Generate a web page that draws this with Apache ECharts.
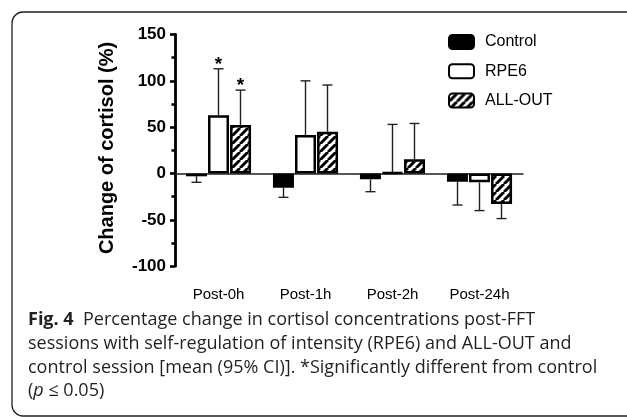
<!DOCTYPE html>
<html>
<head>
<meta charset="utf-8">
<script src="https://cdn.jsdelivr.net/npm/echarts@6/dist/echarts.min.js"></script>
<style>
  html, body { margin: 0; padding: 0; background: #fff; }
  #main { width: 627px; height: 417px; }
</style>
</head>
<body>
<div id="main"></div>
<script>
// data (% change, mean and 95% CI end)
const categories = ['Post-0h', 'Post-1h', 'Post-2h', 'Post-24h'];
const controlMean = [-3, -15.3, -6.3, -8.8];
const controlCI = [-9.5, -25.7, -19.6, -34];
const rpe6Mean = [63, 41.5, 1, -9.5];
const rpe6CI = [113, 100, 53, -40];
const allOutMean = [52.3, 45, 15.3, -33];
const allOutCI = [90, 95.5, 54, -48.6];
const rpe6Sig = [1, 0, 0, 0];
const allOutSig = [1, 0, 0, 0];

const myChart = echarts.init(document.getElementById('main'));

const BAR_W = 21;
const BAR_STEP = 22;
const axisFont = 'Liberation Sans, Arial, sans-serif';

// diagonal hatching used for ALL-OUT
function hatch() {
    const c = document.createElement('canvas');
    c.width = 8; c.height = 8;
    const ctx = c.getContext('2d');
    ctx.fillStyle = '#fff';
    ctx.fillRect(0, 0, 8, 8);
    ctx.strokeStyle = '#000';
    ctx.lineWidth = 3;
    ctx.beginPath();
    [-8, 0, 8].forEach(function (k) {
        ctx.moveTo(k, 8);
        ctx.lineTo(k + 8, 0);
    });
    ctx.stroke();
    return c;
}

// error bar rows: [category, mean, ci end, series index, significant]
const errRows = [];
categories.forEach(function (c, i) {
    errRows.push([i, controlMean[i], controlCI[i], 0, 0]);
    errRows.push([i, rpe6Mean[i], rpe6CI[i], 1, rpe6Sig[i]]);
    errRows.push([i, allOutMean[i], allOutCI[i], 2, allOutSig[i]]);
});

function renderErr(params, api) {
    const base = api.coord([api.value(0), api.value(1)]);
    const tip = api.coord([api.value(0), api.value(2)]);
    const x = base[0] + (api.value(3) - 1) * BAR_STEP;
    const st = { stroke: '#222', lineWidth: 1.4 };
    const kids = [
        { type: 'line', shape: { x1: x, y1: base[1], x2: x, y2: tip[1] }, style: st },
        { type: 'line', shape: { x1: x - 5, y1: tip[1], x2: x + 5, y2: tip[1] }, style: st }
    ];
    if (api.value(4)) {
        kids.push({
            type: 'text', x: x, y: tip[1] - 4,
            style: { text: '*', font: 'bold 19px ' + axisFont, fill: '#000', textAlign: 'center', textVerticalAlign: 'middle' }
        });
    }
    return { type: 'group', children: kids };
}

const barStyle = function (fill) {
    return { color: fill, borderColor: '#000', borderWidth: 2.5 };
};

const captionFont = '18px "Open Sans", sans-serif';
const capColor = '#231f20';

let option = {
    animation: false,
    grid: { left: 175, right: 104, top: 34.5, bottom: 150.8, containLabel: false },
    legend: {
        orient: 'vertical',
        left: 443,
        top: 29,
        itemWidth: 25,
        itemHeight: 14,
        itemGap: 13.3,
        data: ['Control', 'RPE6', 'ALL-OUT'],
        textStyle: { fontFamily: axisFont, fontSize: 16, color: '#000', padding: [0, 0, 0, 6] }
    },
    xAxis: [
        {
            type: 'category',
            data: categories,
            axisLine: { onZero: true, lineStyle: { color: '#222', width: 1.5 } },
            axisTick: { show: false },
            axisLabel: { show: false }
        },
        {
            type: 'category',
            data: categories,
            position: 'bottom',
            axisLine: { show: false, onZero: false },
            axisTick: { show: false },
            axisLabel: { margin: 21, fontFamily: axisFont, fontSize: 15, color: '#000' }
        }
    ],
    yAxis: {
        type: 'value',
        min: -100,
        max: 150,
        interval: 50,
        splitLine: { show: false },
        axisLine: { show: true, lineStyle: { color: '#000', width: 2.8 } },
        axisTick: { show: true, length: 5, lineStyle: { color: '#000', width: 2.6 } },
        minorTick: { show: true, splitNumber: 2, length: 3.5, lineStyle: { color: '#000', width: 2.6 } },
        axisLabel: { margin: 9, fontFamily: axisFont, fontWeight: 'bold', fontSize: 17, color: '#000' }
    },
    series: [
        { name: 'Control', type: 'bar', barWidth: BAR_W, barGap: '5%', data: controlMean, itemStyle: barStyle('#000'), z: 3 },
        { name: 'RPE6', type: 'bar', barWidth: BAR_W, barGap: '5%', data: rpe6Mean, itemStyle: barStyle('#fff'), z: 3 },
        { name: 'ALL-OUT', type: 'bar', barWidth: BAR_W, barGap: '5%', data: allOutMean, itemStyle: barStyle({ image: hatch(), repeat: 'repeat' }), z: 3 },
        { type: 'custom', renderItem: renderErr, data: errRows, z: 2, encode: { x: 0, y: [1, 2] } }
    ],
    graphic: [
        {
            type: 'rect', silent: true,
            shape: { x: 12, y: 12, width: 700, height: 404, r: 11 },
            style: { fill: 'none', stroke: '#231f20', lineWidth: 1.3 }
        },
        {
            type: 'text', x: 107, y: 148, rotation: Math.PI / 2,
            style: { text: 'Change of cortisol (%)', font: 'bold 20px ' + axisFont, fill: '#000', textAlign: 'center', textVerticalAlign: 'middle' }
        },
        {
            type: 'text', x: 28, y: 320,
            style: {
                text: '{b|Fig. 4}  Percentage change in cortisol concentrations post-FFT',
                font: captionFont, fill: capColor, textVerticalAlign: 'middle',
                rich: { b: { fontWeight: 'bold', fontFamily: '"Open Sans", sans-serif', fontSize: 18, fill: capColor } }
            }
        },
        {
            type: 'text', x: 28, y: 344,
            style: { text: 'sessions with self-regulation of intensity (RPE6) and ALL-OUT and', font: captionFont, fill: capColor, textVerticalAlign: 'middle' }
        },
        {
            type: 'text', x: 28, y: 368,
            style: { text: 'control session [mean (95% CI)]. *Significantly different from control', font: captionFont, fill: capColor, textVerticalAlign: 'middle' }
        },
        {
            type: 'text', x: 28, y: 391,
            style: {
                text: '({i|p} ≤ 0.05)',
                font: captionFont, fill: capColor, textVerticalAlign: 'middle',
                rich: { i: { fontStyle: 'italic', fontFamily: '"Open Sans", sans-serif', fontSize: 18, fill: capColor } }
            }
        }
    ]
};

option && myChart.setOption(option);
</script>
</body>
</html>
